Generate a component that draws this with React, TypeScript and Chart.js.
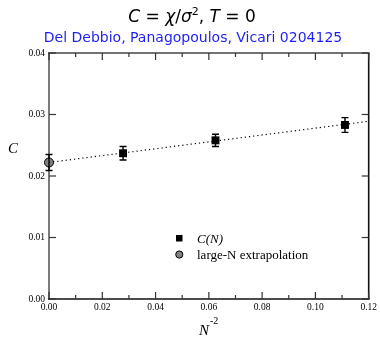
import React, { useEffect, useRef } from "react";
import { Chart, registerables } from "chart.js";

Chart.register(...registerables);

// ---- data ----
const nInvSq = [0.0278, 0.0625, 0.1111];
const cValues = [0.0237, 0.0258, 0.0283];
const cErrors = [0.0011, 0.001, 0.0012];
const extrapX = [0];
const extrapValues = [0.0222];
const extrapErrors = [0.0013];
const fitX = [0, 0.12];
const fitY = [0.0222, 0.0289];
const xMajorTicks = [0, 0.02, 0.04, 0.06, 0.08, 0.1, 0.12];
const xMinorTicks = [0.01, 0.03, 0.05, 0.07, 0.09, 0.11];
const yMajorTicks = [0, 0.01, 0.02, 0.03, 0.04];
const subtitleText = "Del Debbio, Panagopoulos, Vicari 0204125";
const legendLabels = ["C(N)", "large-N extrapolation"];

const SERIF = "'Liberation Serif', 'Times New Roman', serif";
const SANS = "'DejaVu Sans', sans-serif";

const decorPlugin = {
  id: "decor",
  afterDatasetsDraw(chart: any) {
    const ctx = chart.ctx;
    const xs = chart.scales.x;
    const ys = chart.scales.y;
    ctx.save();
    ctx.strokeStyle = "#000";
    ctx.lineWidth = 1.4;
    const drawErr = (xv: number[], yv: number[], ev: number[]) => {
      for (let i = 0; i < xv.length; i++) {
        const px = xs.getPixelForValue(xv[i]);
        const top = ys.getPixelForValue(yv[i] + ev[i]);
        const bot = ys.getPixelForValue(yv[i] - ev[i]);
        ctx.beginPath();
        ctx.moveTo(px, top);
        ctx.lineTo(px, bot);
        ctx.moveTo(px - 3.5, top);
        ctx.lineTo(px + 3.5, top);
        ctx.moveTo(px - 3.5, bot);
        ctx.lineTo(px + 3.5, bot);
        ctx.stroke();
      }
    };
    drawErr(nInvSq, cValues, cErrors);
    drawErr(extrapX, extrapValues, extrapErrors);
    ctx.restore();
  },
  afterDraw(chart: any) {
    const ctx = chart.ctx;
    const a = chart.chartArea;
    const xs = chart.scales.x;
    const ys = chart.scales.y;
    ctx.save();
    const line = (x1: number, y1: number, x2: number, y2: number, c: string, w: number) => {
      ctx.beginPath();
      ctx.strokeStyle = c;
      ctx.lineWidth = w;
      ctx.moveTo(x1, y1);
      ctx.lineTo(x2, y2);
      ctx.stroke();
    };
    line(a.left - 1, a.bottom, a.right + 1, a.bottom, "#111", 1.6);
    line(a.left - 1, a.top, a.right + 1, a.top, "#444", 1.6);
    line(a.right, a.top, a.right, a.bottom, "#111", 1.6);
    const tc = "#333";
    xMajorTicks.forEach((v) => {
      const px = xs.getPixelForValue(v);
      line(px, a.bottom, px, a.bottom - 7, tc, 1.2);
      line(px, a.top, px, a.top + 7, tc, 1.2);
    });
    xMinorTicks.forEach((v) => {
      const px = xs.getPixelForValue(v);
      line(px, a.bottom, px, a.bottom - 4, tc, 1.2);
      line(px, a.top, px, a.top + 4, tc, 1.2);
    });
    yMajorTicks.forEach((v) => {
      const py = ys.getPixelForValue(v);
      line(a.left, py, a.left + 7, py, tc, 1.2);
      line(a.right, py, a.right - 7, py, tc, 1.2);
    });
    // axis titles
    ctx.fillStyle = "#000";
    ctx.textBaseline = "alphabetic";
    ctx.textAlign = "left";
    ctx.font = `italic 15px ${SERIF}`;
    ctx.fillText("C", 8, 153);
    ctx.fillText("N", 199, 335);
    ctx.font = `10px ${SERIF}`;
    ctx.fillText("-2", 210, 324);
    // legend
    ctx.fillStyle = "#000";
    ctx.fillRect(176, 235, 6.5, 6.5);
    ctx.beginPath();
    ctx.arc(179.3, 254.5, 3.6, 0, Math.PI * 2);
    ctx.fillStyle = "#808080";
    ctx.fill();
    ctx.strokeStyle = "#000";
    ctx.lineWidth = 1;
    ctx.stroke();
    ctx.fillStyle = "#000";
    ctx.font = `italic 13px ${SERIF}`;
    ctx.fillText(legendLabels[0], 197, 243);
    ctx.font = `13px ${SERIF}`;
    ctx.fillText(legendLabels[1], 197, 259);
    // title with mixed styles
    const parts: [string, boolean, number][] = [
      ["C", true, 0],
      [" = ", false, 0],
      ["\u03C7", true, 0],
      ["/", false, 0],
      ["\u03C3", true, 0],
      ["2", false, 1],
      [", ", false, 0],
      ["T", true, 0],
      [" = 0", false, 0],
    ];
    const fs = 17;
    const fontFor = (it: boolean, sup: number) =>
      `${it ? "italic " : ""}${sup ? 11 : fs}px ${SANS}`;
    let total = 0;
    parts.forEach(([t, it, sup]) => {
      ctx.font = fontFor(it, sup);
      total += ctx.measureText(t).width;
    });
    let x = 192 - total / 2;
    const base = 22;
    parts.forEach(([t, it, sup]) => {
      ctx.font = fontFor(it, sup);
      ctx.fillText(t, x, sup ? base - 7 : base);
      x += ctx.measureText(t).width;
    });
    ctx.font = `14px ${SANS}`;
    ctx.fillStyle = "#1f1ff5";
    ctx.textAlign = "center";
    ctx.fillText(subtitleText, 193, 42);
    ctx.restore();
  },
  beforeDatasetsDraw(chart: any) {
    const ctx = chart.ctx;
    const a = chart.chartArea;
    ctx.save();
    ctx.beginPath();
    ctx.strokeStyle = "#7a7a7a";
    ctx.lineWidth = 2;
    ctx.moveTo(a.left, a.top - 0.5);
    ctx.lineTo(a.left, a.bottom + 0.5);
    ctx.stroke();
    ctx.restore();
  },
};

export default function App() {
  const ref = useRef<HTMLCanvasElement | null>(null);
  useEffect(() => {
    if (!ref.current) return;
    const chart = new Chart(ref.current, {
      type: "scatter",
      data: {
        datasets: [
          {
            label: "fit",
            data: fitX.map((x, i) => ({ x, y: fitY[i] })),
            showLine: true,
            borderColor: "#000",
            borderWidth: 1.2,
            borderDash: [1.2, 3],
            pointRadius: 0,
            fill: false,
            clip: false,
          },
          {
            label: legendLabels[0],
            data: nInvSq.map((x, i) => ({ x, y: cValues[i] })),
            pointStyle: "rect",
            pointRadius: 5.6,
            backgroundColor: "#000",
            borderColor: "#000",
            borderWidth: 0,
            clip: false,
          },
          {
            label: legendLabels[1],
            data: extrapX.map((x, i) => ({ x, y: extrapValues[i] })),
            pointStyle: "circle",
            pointRadius: 4.5,
            backgroundColor: "#808080",
            borderColor: "#000",
            borderWidth: 1,
            clip: false,
          },
        ],
      },
      options: {
        responsive: false,
        animation: false,
        events: [],
        layout: { padding: { top: 53, right: 11, left: 0, bottom: 0 } },
        plugins: {
          legend: { display: false },
          tooltip: { enabled: false },
          title: { display: false },
        },
        scales: {
          x: {
            type: "linear",
            min: 0,
            max: 0.12,
            grid: { display: false, drawTicks: false },
            border: { display: false },
            ticks: {
              stepSize: 0.02,
              padding: 3,
              color: "#000",
              font: { family: SERIF, size: 9.5 },
              maxRotation: 0,
              callback: (v: any) => Number(v).toFixed(2),
            },
            afterFit: (s: any) => {
              s.height = 38;
            },
          },
          y: {
            type: "linear",
            min: 0,
            max: 0.04,
            grid: { display: false, drawTicks: false },
            border: { display: false },
            ticks: {
              stepSize: 0.01,
              padding: 4,
              color: "#000",
              font: { family: SERIF, size: 9.5 },
              callback: (v: any) => Number(v).toFixed(2),
            },
            afterFit: (s: any) => {
              s.width = 49;
            },
          },
        },
      } as any,
      plugins: [decorPlugin],
    });
    return () => chart.destroy();
  }, []);
  return (
    <div style={{ position: "fixed", left: 0, top: 0, width: 380, height: 337, background: "#fff" }}>
      <canvas ref={ref} width={380} height={337} style={{ width: 380, height: 337 }} />
    </div>
  );
}
